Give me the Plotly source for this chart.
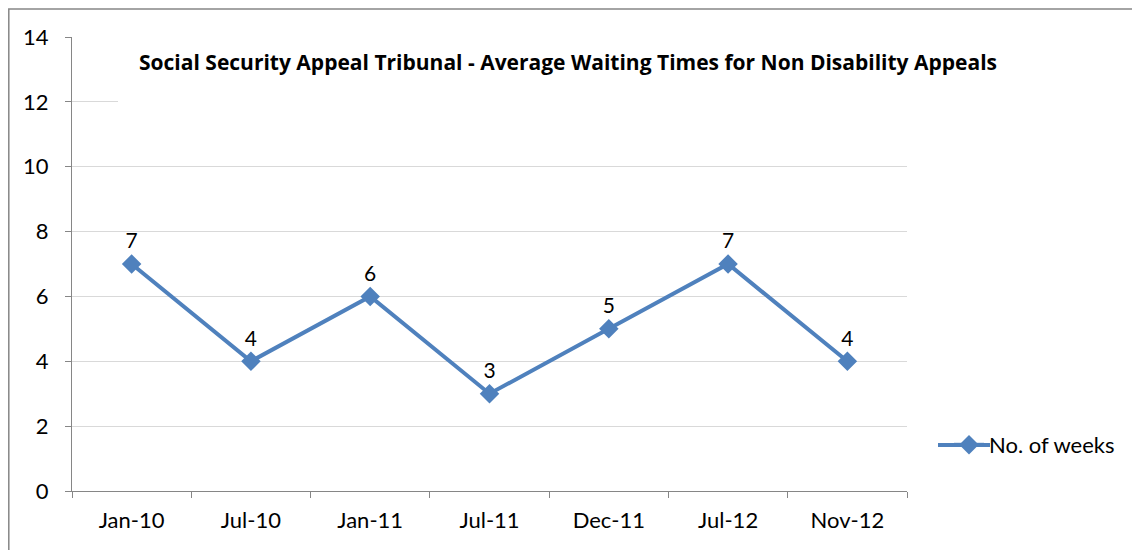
import plotly.graph_objects as go

categories = ["Jan-10", "Jul-10", "Jan-11", "Jul-11", "Dec-11", "Jul-12", "Nov-12"]
weeks = [7, 4, 6, 3, 5, 7, 4]
y_ticks = [0, 2, 4, 6, 8, 10, 12, 14]

OFF = 8  # page body margin
W, H = 1140 - OFF, 550 - OFF
# plot area edges in page pixels
L, R, T, B = 72 - OFF, 907 - OFF, 37 - OFF, 491 - OFF

def px(x):  # page x -> paper
    return (x - OFF - L) / (R - L)

def py(y):  # page y -> paper
    return (B - (y - OFF)) / (B - T)

FONT = "Lato, sans-serif"
TFONT = "Open Sans, sans-serif"
BLUE = "#4F81BD"

fig = go.Figure()
fig.add_trace(go.Scatter(
    x=categories, y=weeks, mode="lines+markers+text",
    name="No. of weeks",
    line=dict(color=BLUE, width=4),
    marker=dict(symbol="diamond", size=15, color=BLUE),
    text=[str(v) for v in weeks], textposition="top center",
    textfont=dict(size=21, color="black", family=FONT),
    cliponaxis=False,
))

fig.update_layout(
    width=W, height=H,
    margin=dict(l=L, r=W - R, t=T, b=H - B),
    paper_bgcolor="white", plot_bgcolor="white",
    font=dict(family=FONT, size=22, color="black"),
    showlegend=True,
    legend=dict(x=px(949), y=py(445), xanchor="left", yanchor="middle",
                font=dict(size=22, family=FONT), bgcolor="rgba(0,0,0,0)"),
    xaxis=dict(type="category", showgrid=False, showline=True, linecolor="#868686",
               linewidth=1, ticks="outside", tickson="boundaries", ticklen=6,
               tickcolor="#868686", tickfont=dict(size=22), range=[-0.5, 6.5],
               ticklabelstandoff=10),
    yaxis=dict(range=[0, 14], tickvals=y_ticks, showgrid=True, gridcolor="#D9D9D9",
               showline=True, linecolor="#868686", linewidth=1, ticks="outside",
               ticklen=6, tickcolor="#868686", tickfont=dict(size=22), zeroline=False,
               ticklabelstandoff=12),
    shapes=[
        # white box behind title (covers top gridlines)
        dict(type="rect", xref="paper", yref="paper", x0=px(118), x1=px(1030),
             y0=py(110), y1=py(20), fillcolor="white", line=dict(width=0), layer="above"),
        # outer border
        dict(type="rect", xref="paper", yref="paper", x0=px(8.8), x1=px(1139),
             y0=py(570), y1=py(9), fillcolor="rgba(0,0,0,0)",
             line=dict(color="#868686", width=1.5), layer="above"),
        # longer legend key line
        dict(type="line", xref="paper", yref="paper", x0=px(938), x1=px(990),
             y0=py(445), y1=py(445), line=dict(color=BLUE, width=4), layer="above"),
    ],
    annotations=[
        dict(text="<b>Social Security Appeal Tribunal - Average Waiting Times for Non Disability Appeals</b>",
             xref="paper", yref="paper", x=px(568), y=py(62), xanchor="center", yanchor="middle",
             showarrow=False, font=dict(size=21, family=TFONT, color="black")),
    ],
)

fig.write_html("out.html")
